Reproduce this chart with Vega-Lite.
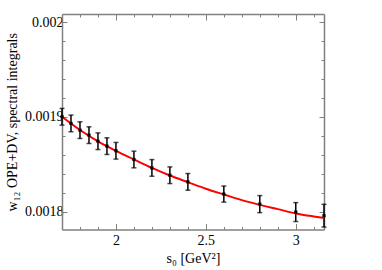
{
  "$schema": "https://vega.github.io/schema/vega-lite/v6.json",
  "autosize": {"type": "none"},
  "padding": {"left": 62, "top": 14, "right": 58, "bottom": 40.5},
  "width": 262,
  "height": 215.5,
  "background": "white",
  "config": {
    "view": {"stroke": null},
    "axis": {
      "labelFont": "Liberation Serif",
      "titleFont": "Liberation Serif",
      "labelFontSize": 14,
      "titleFontSize": 14,
      "titleFontWeight": "normal",
      "labelColor": "#000",
      "titleColor": "#000",
      "domainColor": "#808080",
      "domainWidth": 1.5,
      "tickColor": "#808080",
      "tickWidth": 1,
      "grid": false
    }
  },
  "datasets": {
    "pts": [
      {"s0": 1.7, "w": 0.0019, "lo": 0.0018912, "hi": 0.0019088},
      {"s0": 1.75, "w": 0.001893, "lo": 0.0018842, "hi": 0.0019018},
      {"s0": 1.8, "w": 0.0018859, "lo": 0.0018771, "hi": 0.0018947},
      {"s0": 1.85, "w": 0.0018806, "lo": 0.0018718, "hi": 0.0018894},
      {"s0": 1.9, "w": 0.0018742, "lo": 0.0018654, "hi": 0.001883},
      {"s0": 1.95, "w": 0.001869, "lo": 0.0018602, "hi": 0.0018778},
      {"s0": 2.0, "w": 0.0018641, "lo": 0.0018553, "hi": 0.0018729},
      {"s0": 2.1, "w": 0.0018549, "lo": 0.0018461, "hi": 0.0018637},
      {"s0": 2.2, "w": 0.001846, "lo": 0.0018372, "hi": 0.0018548},
      {"s0": 2.3, "w": 0.0018383, "lo": 0.0018295, "hi": 0.0018471},
      {"s0": 2.4, "w": 0.0018313, "lo": 0.0018225, "hi": 0.0018401},
      {"s0": 2.6, "w": 0.0018184, "lo": 0.0018099, "hi": 0.0018269},
      {"s0": 2.8, "w": 0.0018078, "lo": 0.0017988, "hi": 0.0018168},
      {"s0": 3.0, "w": 0.0017994, "lo": 0.0017894, "hi": 0.0018094},
      {"s0": 3.157, "w": 0.0017956, "lo": 0.0017836, "hi": 0.0018076}
    ],
    "fit": [
      {"s0": 1.7, "w": 0.0019},
      {"s0": 1.8, "w": 0.001886},
      {"s0": 1.9, "w": 0.001874},
      {"s0": 2.0, "w": 0.001864},
      {"s0": 2.1, "w": 0.001855},
      {"s0": 2.2, "w": 0.001846},
      {"s0": 2.3, "w": 0.001838},
      {"s0": 2.4, "w": 0.001831},
      {"s0": 2.5, "w": 0.001824},
      {"s0": 2.6, "w": 0.001818},
      {"s0": 2.7, "w": 0.001812},
      {"s0": 2.8, "w": 0.001807},
      {"s0": 2.9, "w": 0.0018025},
      {"s0": 3.0, "w": 0.001798},
      {"s0": 3.1, "w": 0.0017948},
      {"s0": 3.157, "w": 0.0017932}
    ]
  },
  "resolve": {"axis": {"x": "independent", "y": "independent"}},
  "layer": [
    {
      "data": {"name": "pts"},
      "mark": {"type": "rule", "color": "#000", "strokeWidth": 1.5},
      "encoding": {
        "x": {
          "field": "s0", "type": "quantitative",
          "scale": {"domain": [1.7, 3.157], "nice": false, "zero": false},
          "axis": {
            "orient": "bottom",
            "title": "s₀ [GeV²]",
            "values": [1.8, 1.9, 2.0, 2.1, 2.2, 2.3, 2.4, 2.5, 2.6, 2.7, 2.8, 2.9, 3.0, 3.1],
            "format": ".2~f",
            "labelExpr": "abs(datum.value*2 - round(datum.value*2)) < 1e-6 ? datum.label : ''",
            "tickSize": {"condition": {"test": "abs(datum.value*2 - round(datum.value*2)) < 1e-6", "value": -6}, "value": -3},
            "labelPadding": 10,
            "titlePadding": 4,
            "labelFlush": false
          }
        },
        "y": {
          "field": "lo", "type": "quantitative",
          "scale": {"domain": [0.001781, 0.0020085], "nice": false, "zero": false},
          "axis": {
            "orient": "left",
            "title": "w₁₂ OPE+DV, spectral integrals",
            "values": [0.0018, 0.00182, 0.00184, 0.00186, 0.00188, 0.0019, 0.00192, 0.00194, 0.00196, 0.00198, 0.002],
            "format": ".4~f",
            "labelExpr": "abs(datum.value*10000 - round(datum.value*10000)) < 1e-6 ? datum.label : ''",
            "tickSize": {"condition": {"test": "abs(datum.value*10000 - round(datum.value*10000)) < 1e-6", "value": -5}, "value": -3},
            "labelPadding": 4,
            "titlePadding": 5,
            "labelFlush": false
          }
        },
        "y2": {"field": "hi"}
      }
    },
    {
      "data": {"name": "fit"},
      "mark": {"type": "line", "color": "#ff0000", "strokeWidth": 2, "interpolate": "monotone"},
      "encoding": {
        "x": {
          "field": "s0", "type": "quantitative",
          "axis": {
            "orient": "top",
            "title": null,
            "labels": false,
            "values": [1.8, 1.9, 2.0, 2.1, 2.2, 2.3, 2.4, 2.5, 2.6, 2.7, 2.8, 2.9, 3.0, 3.1],
            "tickSize": {"condition": {"test": "abs(datum.value*2 - round(datum.value*2)) < 1e-6", "value": -6}, "value": -3}
          }
        },
        "y": {
          "field": "w", "type": "quantitative",
          "axis": {
            "orient": "right",
            "title": null,
            "labels": false,
            "values": [0.0018, 0.00182, 0.00184, 0.00186, 0.00188, 0.0019, 0.00192, 0.00194, 0.00196, 0.00198, 0.002],
            "tickSize": {"condition": {"test": "abs(datum.value*10000 - round(datum.value*10000)) < 1e-6", "value": -5}, "value": -3}
          }
        }
      }
    },
    {
      "data": {"name": "pts"},
      "mark": {"type": "tick", "color": "#000", "orient": "horizontal", "size": 5, "thickness": 1.5},
      "encoding": {
        "x": {"field": "s0", "type": "quantitative", "axis": null},
        "y": {"field": "lo", "type": "quantitative", "axis": null}
      }
    },
    {
      "data": {"name": "pts"},
      "mark": {"type": "tick", "color": "#000", "orient": "horizontal", "size": 5, "thickness": 1.5},
      "encoding": {
        "x": {"field": "s0", "type": "quantitative", "axis": null},
        "y": {"field": "hi", "type": "quantitative", "axis": null}
      }
    },
    {
      "data": {"name": "pts"},
      "mark": {"type": "square", "color": "#000", "size": 10, "filled": true, "opacity": 1},
      "encoding": {
        "x": {"field": "s0", "type": "quantitative", "axis": null},
        "y": {"field": "w", "type": "quantitative", "axis": null}
      }
    }
  ]
}
